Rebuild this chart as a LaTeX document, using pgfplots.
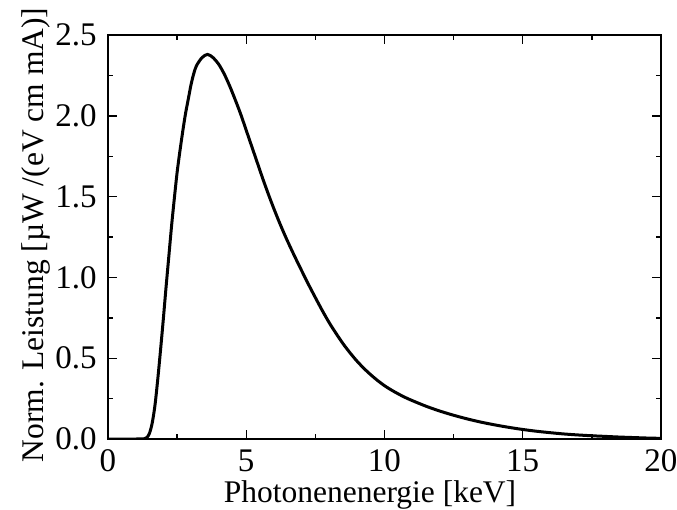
\documentclass[border=0pt]{standalone}
\usepackage{fontspec}
\setmainfont{Liberation Serif}
\usepackage{pgfplots}
\pgfplotsset{compat=1.18}
\usepackage{pgfplotstable}
\pgfplotstableread{
E v
0 0
1.0 0
1.3 0.001
1.4 0.008
1.5 0.035
1.6 0.10
1.7 0.21
1.8 0.37
1.9 0.55
2.0 0.74
2.1 0.94
2.2 1.13
2.3 1.32
2.4 1.49
2.5 1.65
2.6 1.78
2.7 1.90
2.8 2.01
2.9 2.10
3.0 2.19
3.1 2.26
3.2 2.31
3.4 2.36
3.6 2.38
3.8 2.36
4.0 2.32
4.2 2.26
4.4 2.185
4.6 2.10
4.8 2.01
5.0 1.91
5.2 1.81
5.4 1.71
5.6 1.61
5.8 1.515
6.0 1.425
6.2 1.34
6.4 1.26
6.6 1.185
6.8 1.113
7.0 1.043
7.25 0.957
7.5 0.875
7.75 0.795
8.0 0.72
8.25 0.653
8.5 0.59
8.75 0.534
9.0 0.483
9.25 0.438
9.5 0.398
9.75 0.362
10 0.33
10.25 0.303
10.5 0.279
10.75 0.257
11 0.238
11.5 0.203
12 0.173
12.5 0.147
13 0.124
13.5 0.104
14 0.087
14.5 0.072
15 0.059
15.5 0.048
16 0.039
16.5 0.031
17 0.025
17.5 0.020
18 0.016
18.5 0.012
19 0.009
19.5 0.006
20 0.004
}\spectrum
\begin{document}
\begin{tikzpicture}
\path[use as bounding box] (-54pt,-35.5pt) rectangle (284.5pt,219.5pt);
\begin{axis}[
  at={(0,0)}, anchor=south west,
  scale only axis, width=276.5pt, height=202pt,
  xmin=0, xmax=20, ymin=0, ymax=2.5,
  xtick={0,5,10,15,20}, ytick={0,0.5,1.0,1.5,2.0,2.5},
  minor x tick num=1, minor y tick num=1,
  tick align=inside, major tick length=4.5pt, minor tick length=2.5pt,
  tick style={black, line width=0.7pt},
  axis line style={black, line width=0.8pt},
  every tick label/.append style={font=\fontsize{16.5}{20}\selectfont},
  label style={font=\fontsize{15.75}{19}\selectfont},
  /pgf/number format/assume math mode=true,
  yticklabel style={/pgf/number format/fixed, /pgf/number format/fixed zerofill, /pgf/number format/precision=1, anchor=east, inner sep=0pt, xshift=-5.5pt},
  xticklabel style={anchor=base, yshift=-16pt},
  xlabel={Photonenenergie [keV]},
  ylabel={Norm. Leistung [µW /(eV cm mA)]},
  xlabel style={at={(axis description cs:0.4738,-0.156)}, anchor=base},
  ylabel style={at={(axis description cs:-0.1175,0.505)}, anchor=base},
]
\addplot[black, line width=1.5pt, smooth] table[x=E, y=v] {\spectrum};
\end{axis}
\end{tikzpicture}
\end{document}
